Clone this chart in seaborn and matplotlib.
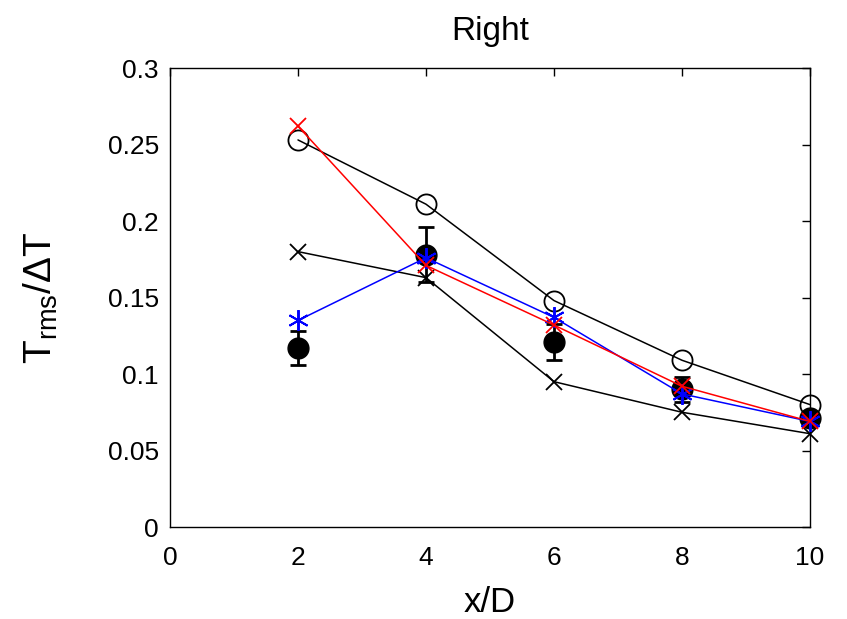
import matplotlib
matplotlib.use("Agg")
import matplotlib.pyplot as plt
import seaborn as sns
import numpy as np
import pandas as pd

x = [2, 4, 6, 8, 10]
red_x = [0.262, 0.171, 0.132, 0.092, 0.069]
black_circle = [0.253, 0.211, 0.148, 0.109, 0.080]
black_x = [0.180, 0.163, 0.095, 0.075, 0.061]
blue_star = [0.135, 0.176, 0.137, 0.087, 0.069]
exp_mean = [0.117, 0.178, 0.121, 0.090, 0.071]
exp_err = [0.011, 0.018, 0.012, 0.008, 0.004]

sns.set_theme(style="white")
plt.rcParams['font.family'] = ['Liberation Sans', 'DejaVu Sans']
plt.rcParams['mathtext.fontset'] = 'custom'
plt.rcParams['mathtext.rm'] = 'Liberation Sans'
plt.rcParams['mathtext.it'] = 'Liberation Sans'
plt.rcParams['text.color'] = 'black'
plt.rcParams['axes.labelcolor'] = 'black'

fig = plt.figure(figsize=(8.47, 6.19), dpi=100)
ax = fig.add_axes([0.2007, 0.1486, 0.7556, 0.7415])

# experiment with error bars
ax.errorbar(x, exp_mean, yerr=exp_err, fmt='o', color='black', markersize=15,
            capsize=5.5, elinewidth=2, capthick=2, zorder=2, clip_on=False)

common = dict(ax=ax, linewidth=1.1, clip_on=False)
sns.lineplot(x=x, y=black_circle, color='black', marker='o', markersize=14.5,
             markerfacecolor='none', markeredgecolor='black', markeredgewidth=1.3,
             zorder=3, **common)
sns.lineplot(x=x, y=black_x, color='black', marker='x', markersize=11,
             markeredgecolor='black', markeredgewidth=1.3, zorder=3, **common)
sns.lineplot(x=x, y=blue_star, color='blue', marker=(6, 2, 0), markersize=15,
             markeredgewidth=1.4, markeredgecolor='blue', zorder=4, **common)
sns.lineplot(x=x, y=red_x, color='red', marker='x', markersize=11,
             markeredgecolor='red', markeredgewidth=1.3, zorder=5, **common)

ax.set_xlim(0, 10)
ax.set_ylim(0, 0.3)
ax.set_xticks([0, 2, 4, 6, 8, 10])
ax.set_yticks([0, 0.05, 0.1, 0.15, 0.2, 0.25, 0.3])
ax.set_yticklabels(['0', '0.05', '0.1', '0.15', '0.2', '0.25', '0.3'])
ax.tick_params(direction='in', length=6, width=1, top=True, right=True,
               labelsize=19, colors='black')
ax.tick_params(axis='y', pad=8)
ax.tick_params(axis='x', pad=14)
for s in ax.spines.values():
    s.set_color('black')
    s.set_linewidth(1)

ax.set_xlabel('x/D', fontsize=25, labelpad=11)
ax.set_ylabel(r'T$_{\rm rms}$/$\Delta$T', fontsize=28, labelpad=34)
ax.set_title('Right', fontsize=24, pad=20, color='black')

fig.savefig('out.png', dpi=100)
